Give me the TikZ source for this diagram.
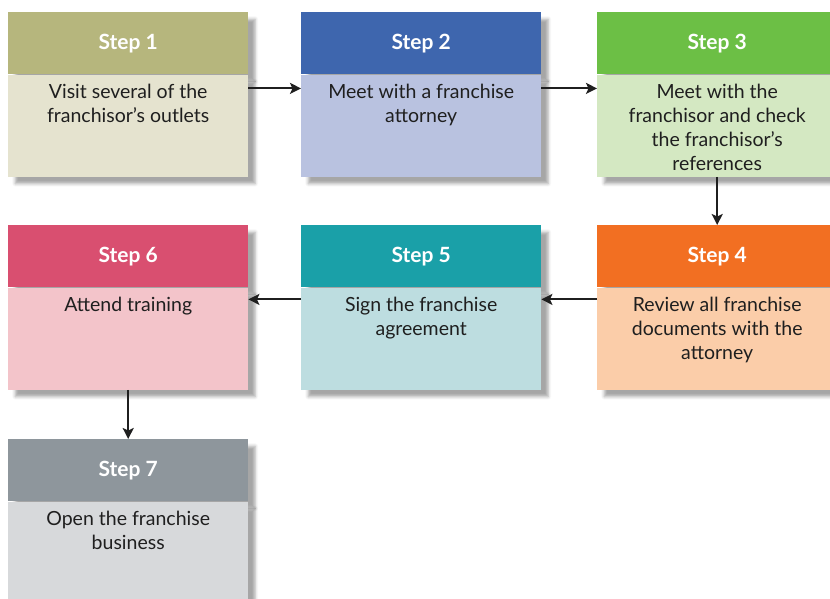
\documentclass[tikz,border=0pt]{standalone}
\usepackage{fontspec}
\setmainfont{Lato}
\usetikzlibrary{arrows.meta,positioning,shadows.blur}
\definecolor{oliveH}{HTML}{B6B67D}\definecolor{oliveB}{HTML}{E5E3CF}
\definecolor{blueH}{HTML}{3E66AE}\definecolor{blueB}{HTML}{B9C2E0}
\definecolor{greenH}{HTML}{6CBF45}\definecolor{greenB}{HTML}{D4E8C2}
\definecolor{orangeH}{HTML}{F26F22}\definecolor{orangeB}{HTML}{FBCDA9}
\definecolor{tealH}{HTML}{1AA0A8}\definecolor{tealB}{HTML}{BDDDE0}
\definecolor{pinkH}{HTML}{D94F70}\definecolor{pinkB}{HTML}{F3C4CA}
\definecolor{greyH}{HTML}{8E969C}\definecolor{greyB}{HTML}{D7D9DB}
\newcommand{\stepbody}[1]{\parbox[t][90pt][t]{228pt}{\vspace*{4pt}\centering #1}}
\tikzset{
  shade/.style = {blur shadow={shadow xshift=7pt, shadow yshift=-7pt,
                  shadow blur radius=3pt, shadow opacity=35}},
  head/.style  = {rectangle, anchor=north west, shade, minimum width=240pt,
                  minimum height=62pt, inner sep=0pt, text=white,
                  font=\fontsize{21}{25}\selectfont\bfseries},
  body/.style  = {rectangle, shade, minimum width=240pt, minimum height=102pt,
                  inner xsep=6pt, inner ysep=6pt, text=black!88,
                  font=\fontsize{19.5}{24}\selectfont},
  e/.style     = {-{Stealth[length=11pt,width=11pt,inset=2.5pt]}, line width=2.1pt,
                  black!88}
}
\begin{document}
\begin{tikzpicture}[x=1pt, y=-1pt]
  \useasboundingbox (0,0) rectangle (830,598);
  % top row
  \node[head, fill=oliveH] (h1) at (8,12) {Step 1};
  \node[body, fill=oliveB, below=0pt of h1] (b1)
    {\stepbody{Visit several of the\\franchisor’s outlets}};
  \node[head, fill=blueH] (h2) at (301,12) {Step 2};
  \node[body, fill=blueB, below=0pt of h2] (b2)
    {\stepbody{Meet with a franchise\\attorney}};
  \node[head, fill=greenH] (h3) at (597,12) {Step 3};
  \node[body, fill=greenB, below=0pt of h3] (b3)
    {\stepbody{Meet with the\\franchisor and check\\the franchisor’s\\references}};
  % middle row
  \node[head, fill=orangeH] (h4) at (597,225) {Step 4};
  \node[body, fill=orangeB, below=0pt of h4] (b4)
    {\stepbody{Review all franchise\\documents with the\\attorney}};
  \node[head, fill=tealH] (h5) at (301,225) {Step 5};
  \node[body, fill=tealB, below=0pt of h5] (b5)
    {\stepbody{Sign the franchise\\agreement}};
  \node[head, fill=pinkH] (h6) at (8,225) {Step 6};
  \node[body, fill=pinkB, below=0pt of h6] (b6)
    {\stepbody{Attend training}};
  % bottom row
  \node[head, fill=greyH] (h7) at (8,439) {Step 7};
  \node[body, fill=greyB, below=0pt of h7] (b7)
    {\stepbody{Open the franchise\\business}};
  % arrows
  \draw[e] ([yshift=-14pt]b1.north east) -- ([yshift=-14pt]b2.north west);
  \draw[e] ([yshift=-14pt]b2.north east) -- ([yshift=-14pt]b3.north west);
  \draw[e] (b3.south) -- (h4.north);
  \draw[e] ([yshift=-12pt]b4.north west) -- ([yshift=-12pt]b5.north east);
  \draw[e] ([yshift=-12pt]b5.north west) -- ([yshift=-12pt]b6.north east);
  \draw[e] (b6.south) -- (h7.north);
\end{tikzpicture}
\end{document}
